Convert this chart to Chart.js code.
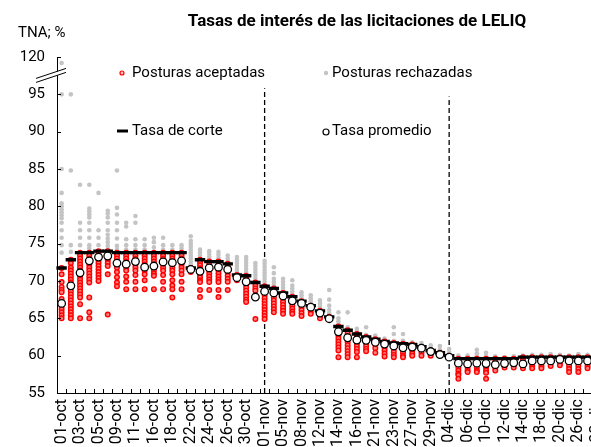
<!DOCTYPE html>
<html lang="es">
<head>
<meta charset="utf-8">
<title>Tasas de interés de las licitaciones de LELIQ</title>
<script src="https://cdn.jsdelivr.net/npm/chart.js@4.4.1/dist/chart.umd.min.js"></script>
<style>
  html, body { margin: 0; padding: 0; background: #fff; overflow: hidden; }
  #wrap { position: relative; width: 610px; height: 462px; }
</style>
</head>
<body>
<div id="wrap"><canvas id="myChart"></canvas></div>
<script>
// fechas de licitación (una categoría por día)
const fechas = [
  "01-oct", "02-oct", "03-oct", "04-oct", "05-oct", "08-oct", "09-oct", "10-oct", "11-oct", "12-oct",
  "16-oct", "17-oct", "18-oct", "19-oct", "22-oct", "23-oct", "24-oct", "25-oct", "26-oct", "29-oct",
  "30-oct", "31-oct", "01-nov", "02-nov", "05-nov", "06-nov", "08-nov", "09-nov", "12-nov", "13-nov",
  "14-nov", "15-nov", "16-nov", "20-nov", "21-nov", "22-nov", "23-nov", "26-nov", "27-nov", "28-nov",
  "29-nov", "03-dic", "04-dic", "05-dic", "06-dic", "07-dic", "10-dic", "11-dic", "12-dic", "13-dic",
  "14-dic", "17-dic", "18-dic", "19-dic", "20-dic", "21-dic", "26-dic", "27-dic", "28-dic",
];

const corte = [
  71.75, 72.85, 73.8, 73.8, 74.0, 74.0, 73.8, 73.8, 73.8, 73.8,
  73.8, 73.8, 73.8, 73.8, 71.75, 72.85, 72.6, 72.6, 72.3, 70.8,
  70.7, 69.8, 69.3, 69.0, 68.4, 67.9, 67.3, 66.7, 66.0, 65.2,
  63.9, 63.4, 62.9, 62.5, 62.2, 61.9, 61.7, 61.6, 61.5, 61.2,
  60.7, 60.4, 60.0, 59.6, 59.6, 59.6, 59.6, 59.6, 59.6, 59.6,
  59.8, 59.8, 59.8, 59.8, 59.8, 59.8, 59.8, 59.8, 59.8,
];

const promedio = [
  67.0, 69.35, 71.1, 72.7, 73.2, 73.35, 72.4, 72.25, 72.6, 71.85,
  72.0, 72.55, 72.45, 72.7, 71.55, 71.3, 71.75, 71.85, 71.55, 70.45,
  69.9, 67.85, 68.6, 68.4, 68.0, 67.35, 67.0, 66.5, 65.7, 64.95,
  63.2, 62.4, 62.1, 62.05, 61.8, 61.55, 61.3, 61.05, 61.15, 61.0,
  60.55, 60.15, 59.8, 59.0, 58.9, 59.0, 58.95, 58.8, 58.95, 59.05,
  58.9, 59.3, 59.3, 59.3, 59.5, 59.3, 59.3, 59.3, 59.3,
];

// posturas aceptadas por licitación
const aceptadas = [
  [71.75, 70.9, 69.85, 69.2, 68.8, 68.5, 67.6, 67.0, 66.6, 66.2, 65.8, 65.4, 65.0],
  [72.85, 72.4, 71.8, 71.4, 71.0, 70.6, 70.2, 69.8, 69.4, 69.0, 68.6, 68.2, 67.8, 67.4, 67.0, 66.6, 66.2, 65.8, 65.4, 65.0],
  [73.8, 73.4, 73.0, 72.6, 72.2, 71.8, 71.4, 71.0, 70.6, 70.2, 69.8, 69.4, 69.0, 68.6, 68.2, 67.8, 66.9, 65.0],
  [73.8, 73.4, 73.0, 72.6, 72.2, 71.8, 71.4, 71.0, 70.6, 70.2, 69.8, 67.8, 65.8, 65.0],
  [74.0, 73.6, 73.2, 72.8, 72.4, 72.0, 71.6, 71.2, 70.8, 70.4, 70.0],
  [74.0, 73.6, 73.2, 72.8, 72.4, 72.0, 70.9, 65.5],
  [73.8, 73.4, 73.0, 72.6, 72.2, 71.8, 71.2, 70.5, 69.8, 69.3],
  [73.8, 73.4, 73.0, 72.6, 72.2, 71.8, 71.4, 70.6, 69.9, 68.9],
  [73.8, 73.4, 73.0, 72.6, 72.2, 71.8, 71.4, 70.8, 69.9, 68.9],
  [73.8, 73.4, 73.0, 72.6, 72.2, 71.8, 71.4, 70.9, 70.1, 68.9],
  [73.8, 73.4, 73.0, 72.6, 72.2, 71.8, 71.4, 71.0, 70.7, 68.9],
  [73.8, 73.4, 73.0, 72.6, 72.2, 71.8, 71.4, 70.8, 69.9, 68.9],
  [73.8, 73.4, 73.0, 72.6, 72.2, 71.8, 71.4, 70.9, 70.1, 69.4, 68.9, 67.8],
  [73.8, 73.4, 73.0, 72.6, 72.2, 71.8, 71.4, 70.9, 69.9, 68.9],
  [71.75, 71.4, 71.2],
  [72.85, 72.5, 72.1, 71.7, 71.3, 70.9, 70.5, 70.1, 69.85, 68.8, 67.85],
  [72.6, 72.2, 71.8, 71.4, 71.0, 70.6, 70.2, 69.85, 68.8],
  [72.6, 72.2, 71.8, 71.4, 71.0, 70.6, 70.2, 69.85, 68.8, 67.85],
  [72.3, 71.9, 71.5, 71.1, 70.7, 70.3, 69.9, 68.8],
  [70.8, 70.4, 70.1],
  [70.7, 70.3, 69.9, 69.5, 69.1, 68.7, 68.3, 67.9, 67.5, 67.2],
  [69.8, 69.4, 69.0, 68.7, 64.9],
  [69.3, 68.9, 68.5, 68.1, 67.7, 67.3, 66.9, 66.5, 66.1, 65.7, 65.3, 64.9],
  [69.0, 68.6, 68.2, 67.8, 67.4, 67.0, 66.6, 66.2, 65.8],
  [68.4, 68.0, 67.6, 67.2, 66.8, 66.4, 66.0, 65.6],
  [67.9, 67.5, 67.1, 66.7, 66.3, 65.9, 65.6],
  [67.3, 66.9, 66.5, 66.1, 65.7, 65.3],
  [66.7, 66.3, 65.9, 65.6],
  [66.0, 65.6, 65.3, 65.0],
  [65.2, 64.9],
  [63.9, 63.5, 63.1, 62.7, 62.3, 61.9, 61.5, 61.1, 60.7, 59.8],
  [63.4, 63.0, 62.6, 62.2, 61.8, 61.4, 61.0, 60.6, 60.2, 59.8],
  [62.9, 62.5, 62.1, 61.7, 61.3, 60.9, 60.5, 59.8],
  [62.5, 62.1, 61.7, 61.3, 60.9, 60.6],
  [62.2, 61.8, 61.4, 61.0, 60.4],
  [61.9, 61.5, 61.1, 60.7, 60.3, 59.9],
  [61.7, 61.3, 60.9, 60.5, 60.1, 59.8],
  [61.6, 61.2, 60.8, 60.4, 60.0, 59.8],
  [61.5, 61.1, 60.7, 60.3, 60.0],
  [61.2, 60.8, 60.4, 60.0],
  [60.7, 60.3, 60.0],
  [60.4, 60.1],
  [60.0, 59.8],
  [59.6, 59.2, 58.8, 58.4, 58.0, 57.6, 57.4, 56.9],
  [59.6, 59.2, 58.8, 58.4, 58.0, 57.8],
  [59.6, 59.2, 58.8, 58.4, 58.0, 57.8],
  [59.6, 59.2, 58.8, 58.4, 58.0, 57.7, 56.9],
  [59.6, 59.2, 58.8, 58.4, 58.0],
  [59.6, 59.2, 58.8, 58.4],
  [59.6, 59.2, 58.8, 58.4],
  [59.8, 59.4, 59.0, 58.6, 58.3],
  [59.8, 59.4, 59.0, 58.6, 58.3],
  [59.8, 59.4, 59.0, 58.6, 58.3],
  [59.8, 59.4, 59.0, 58.6],
  [59.8, 59.4, 59.0, 58.7],
  [59.8, 59.4, 59.0, 58.6, 58.2, 57.8],
  [59.8, 59.4, 59.0, 58.6, 58.2, 57.8],
  [59.8, 59.4, 59.0, 58.6, 58.3],
  [59.8, 59.4, 59.0, 58.6],
];

// posturas rechazadas por licitación
const rechazadas = [
  [116, 95, 85, 81.8, 80.4, 80.0, 79.6, 79.2, 78.8, 78.4, 77.8, 76.8, 75.8, 74.8, 73.8],
  [95, 84.8, 74.8, 73.9],
  [82.9, 77.8, 76.8, 75.8, 74.8],
  [82.9, 79.7, 79.3, 78.9, 78.5, 77.8, 76.8, 75.8, 74.8, 74.4],
  [81.8, 76.8, 75.8, 74.8],
  [79.4, 79.0, 78.5, 77.8, 76.8, 76.2, 75.7, 75.2, 74.7, 74.2],
  [84.8, 79.8, 78.9, 77.8, 76.8, 75.7, 74.7, 74.2],
  [77.8, 77.3, 75.6, 74.8, 74.2],
  [78.7, 77.8, 75.6, 74.8, 74.2],
  [75.6, 74.8, 74.2],
  [75.8, 75.2, 74.5],
  [75.8, 74.8, 74.2],
  [74.8, 74.2],
  [74.8, 74.4],
  [76.0, 75.4, 75.0, 74.6, 74.2, 73.8, 73.4, 73.0, 72.6, 72.2],
  [74.2, 73.8, 73.4, 73.0],
  [74.0, 73.6, 73.2, 72.9],
  [73.9, 73.5, 73.1, 72.8],
  [73.4, 73.0, 72.6],
  [73.2, 72.8, 72.4, 72.0, 71.6, 71.2],
  [73.2, 72.8, 72.4, 72.0, 71.6, 71.2, 70.9],
  [72.4, 72.0, 71.6, 71.2, 70.8, 70.4, 70.0],
  [72.7, 72.3, 71.9, 71.5, 71.1, 70.7, 70.3, 69.9],
  [71.85, 71.05, 70.3, 69.9, 69.5],
  [70.3, 69.9, 69.5, 69.1, 68.7],
  [70.1, 69.4, 69.0, 68.6, 68.2],
  [68.5, 68.1, 67.7],
  [68.1, 67.7, 67.3, 66.9],
  [67.4, 67.0, 66.6, 66.2],
  [68.8, 67.5, 66.7, 66.1, 65.7],
  [65.8, 65.0, 64.6, 64.2],
  [65.8, 63.8],
  [63.6, 63.2],
  [63.8, 62.8],
  [62.7, 62.4],
  [62.3],
  [63.8, 62.9, 62.0],
  [62.9, 62.0],
  [61.8],
  [61.7],
  [61.4, 61.0],
  [61.3, 60.8],
  [60.9, 60.5],
  [60.0],
  [60.0],
  [60.8, 60.3, 59.9],
  [60.4, 59.9],
  [59.9],
  [59.8],
  [59.9],
  [60.0],
  [60.1],
  [60.1],
  [60.2],
  [60.1],
  [60.0],
  [60.2],
  [60.1],
  [60.1],
];

// eje cortado: de 95 a 120 se comprime en 5 unidades
const toAxis = (v) => (v <= 95 ? v : 95 + (v - 95) / 5);

function nube(listas) {
  const out = [];
  listas.forEach((vals, i) => vals.forEach((v) => out.push({ x: fechas[i], y: toAxis(v) })));
  return out;
}

Chart.defaults.font.family = "Roboto";
Chart.defaults.color = "#000";

// titulo, unidad, leyenda, marcas del eje y corte del eje
const rotulos = {
  id: "rotulos",
  afterDraw(chart) {
    const { ctx, chartArea } = chart;
    const xs = chart.scales.x;
    const ys = chart.scales.y;
    ctx.save();

    // marcas interiores eje x
    const paso = xs.getPixelForValue(1) - xs.getPixelForValue(0);
    ctx.strokeStyle = "#000";
    ctx.lineWidth = 1;
    ctx.beginPath();
    for (let k = 0; k <= fechas.length; k++) {
      const px = Math.round(chartArea.left + k * paso) + 0.5;
      ctx.moveTo(px, chartArea.bottom);
      ctx.lineTo(px, chartArea.bottom - 4);
    }
    // marcas interiores eje y
    ys.ticks.forEach((t) => {
      const py = Math.round(ys.getPixelForValue(t.value)) + 0.5;
      ctx.moveTo(chartArea.left, py);
      ctx.lineTo(chartArea.left + 4, py);
    });
    ctx.stroke();

    // corte del eje
    const yc = ys.getPixelForValue(97.4);
    const x0 = chartArea.left - 21, x1 = chartArea.left + 9;
    ctx.fillStyle = "#fff";
    ctx.beginPath();
    ctx.moveTo(x0, yc + 2);
    ctx.lineTo(x1, yc - 8);
    ctx.lineTo(x1, yc - 4);
    ctx.lineTo(x0, yc + 6);
    ctx.closePath();
    ctx.fill();
    ctx.beginPath();
    ctx.moveTo(x0, yc + 2);
    ctx.lineTo(x1, yc - 8);
    ctx.moveTo(x0, yc + 6);
    ctx.lineTo(x1, yc - 4);
    ctx.stroke();

    // titulo y unidad
    ctx.fillStyle = "#000";
    ctx.textBaseline = "middle";
    ctx.textAlign = "center";
    ctx.font = "bold 17px Roboto";
    ctx.fillText("Tasas de interés de las licitaciones de LELIQ", 357, 22);
    ctx.textAlign = "left";
    ctx.font = "15px Roboto";
    ctx.fillText("TNA; %", 18, 33);

    // leyenda
    ctx.fillText("Posturas aceptadas", 132, 73);
    ctx.fillText("Posturas rechazadas", 332, 73);
    ctx.fillText("Tasa de corte", 132, 131);
    ctx.fillText("Tasa promedio", 332, 131);

    ctx.beginPath();
    ctx.arc(122, 73, 2, 0, Math.PI * 2);
    ctx.fillStyle = "#ffc4c4";
    ctx.fill();
    ctx.strokeStyle = "#ff0000";
    ctx.lineWidth = 1.2;
    ctx.stroke();

    ctx.beginPath();
    ctx.arc(326, 73, 2.2, 0, Math.PI * 2);
    ctx.fillStyle = "#c4c4c4";
    ctx.fill();

    ctx.beginPath();
    ctx.moveTo(117, 131);
    ctx.lineTo(128, 131);
    ctx.strokeStyle = "#000";
    ctx.lineWidth = 3;
    ctx.stroke();

    ctx.beginPath();
    ctx.arc(326, 132, 3, 0, Math.PI * 2);
    ctx.fillStyle = "#fff";
    ctx.fill();
    ctx.lineWidth = 1.2;
    ctx.stroke();

    ctx.restore();
  },
};

const ctx = document.getElementById("myChart").getContext("2d");

const myChart = new Chart(ctx, {
  type: "line",
  data: {
    labels: fechas,
    datasets: [
      {
        label: "Tasa promedio",
        data: promedio,
        showLine: false,
        pointStyle: "circle",
        pointRadius: 3.8,
        pointBackgroundColor: "#fff",
        pointBorderColor: "#000",
        pointBorderWidth: 1.3,
        order: 0,
      },
      {
        label: "Tasa de corte",
        data: corte,
        showLine: false,
        pointStyle: "line",
        pointRadius: 5.2,
        pointBorderColor: "#000",
        pointBorderWidth: 3.4,
        order: 1,
      },
      {
        label: "Posturas aceptadas",
        data: nube(aceptadas),
        showLine: false,
        pointRadius: 2.3,
        pointBackgroundColor: "#ff7a7a",
        pointBorderColor: "#ff0000",
        pointBorderWidth: 1.4,
        order: 2,
      },
      {
        label: "Posturas rechazadas",
        data: nube(rechazadas),
        showLine: false,
        pointRadius: 2.3,
        pointBackgroundColor: "#c4c4c4",
        pointBorderWidth: 0,
        order: 3,
      },
      {
        label: "nov",
        data: [{ x: "01-nov", y: 55 }, { x: "01-nov", y: 95.8 }],
        borderColor: "#000",
        borderWidth: 1.3,
        borderDash: [5, 3],
        pointRadius: 0,
        order: 4,
      },
      {
        label: "dic",
        data: [{ x: "04-dic", y: 55 }, { x: "04-dic", y: 94.7 }],
        borderColor: "#000",
        borderWidth: 1.3,
        borderDash: [5, 3],
        pointRadius: 0,
        order: 4,
      },
    ],
  },
  options: {
    responsive: true,
    maintainAspectRatio: false,
    animation: false,
    events: [],
    layout: { padding: { top: 57, left: 0, right: 0, bottom: 0 } },
    plugins: {
      legend: { display: false },
      tooltip: { enabled: false },
    },
    scales: {
      x: {
        type: "category",
        offset: true,
        grid: { display: false, drawTicks: false },
        border: { display: true, color: "#000", width: 1 },
        ticks: {
          autoSkip: false,
          minRotation: 90,
          maxRotation: 90,
          padding: 6,
          color: "#000",
          font: { size: 16 },
          callback: (v, i) => (i % 2 === 0 ? fechas[i] : ""),
        },
        afterFit: (s) => {
          s.height = 69;
          s.paddingLeft = 0;
          s.paddingRight = 0;
        },
      },
      y: {
        min: 55,
        max: 100,
        grid: { display: false, drawTicks: false },
        border: { display: true, color: "#000", width: 1 },
        ticks: {
          stepSize: 5,
          padding: 12,
          color: "#000",
          font: { size: 15 },
          callback: (v) => (v === 100 ? "120" : v),
        },
        afterFit: (s) => {
          s.width = 57;
        },
      },
    },
  },
  plugins: [rotulos],
});
</script>
</body>
</html>
